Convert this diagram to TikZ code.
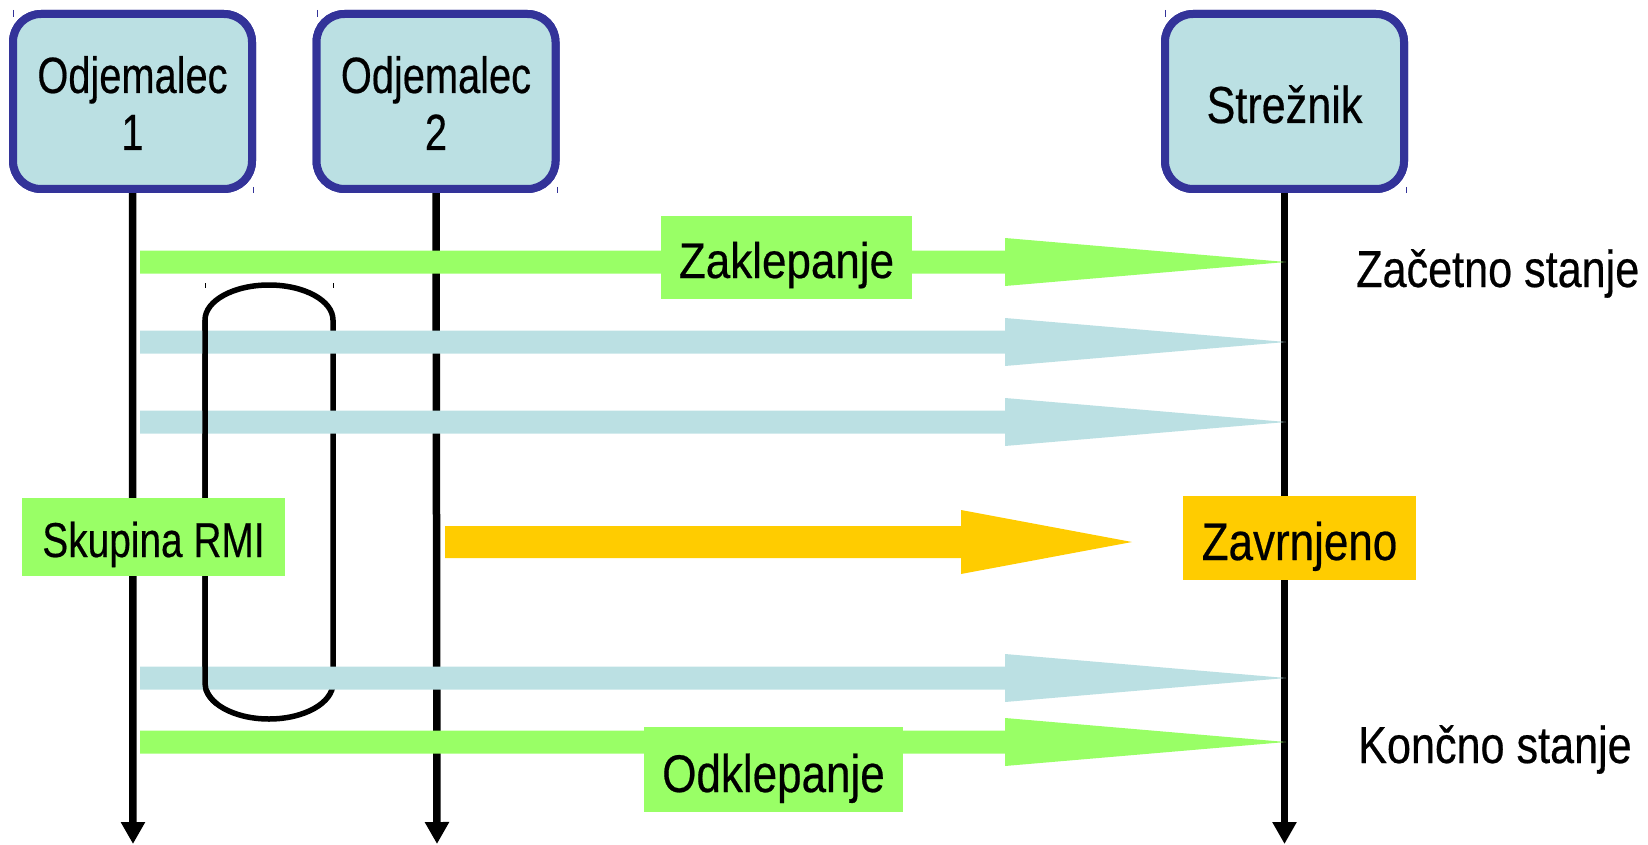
\documentclass[tikz,border=0pt]{standalone}
\usepackage{fontspec}
\setmainfont{Liberation Sans}[FakeStretch=0.83,FakeBold=0.4]
\usetikzlibrary{arrows.meta,calc}
\definecolor{boxfill}{HTML}{BBE0E3}
\definecolor{boxline}{HTML}{333399}
\definecolor{lgreen}{HTML}{99FF66}
\definecolor{lyellow}{HTML}{FFCC00}
% #1 colour, #2 start, #3 tip, #4 half shaft, #5 half head, #6 head length
\newcommand\blkarrow[6]{%
  \fill[#1] ($(#2)+(0,#4)$) -- ($(#3)+(-#6,#4)$) -- ($(#3)+(-#6,#5)$) -- (#3)
    -- ($(#3)+(-#6,-#5)$) -- ($(#3)+(-#6,-#4)$) -- ($(#2)+(0,-#4)$) -- cycle;}
\begin{document}
\begin{tikzpicture}[x=1pt,y=-1pt,
  actor/.style={draw=boxline,line width=8pt,fill=boxfill,rounded corners=28pt,
    minimum width=239pt,minimum height=175pt,inner sep=0pt},
  title/.style={anchor=base,font=\fontsize{51pt}{57pt}\selectfont,inner sep=0pt},
  lbl/.style={anchor=base,inner sep=0pt},
  lifeline/.style={line width=7.5pt,-{Triangle[length=22pt,width=23pt]}},
  loopline/.style={line width=5.5pt},
  tick/.style={line width=1pt},
  tag/.style={inner sep=0pt}]
\useasboundingbox (0,0) rectangle (1648,845);

% actor boxes (nodes first, for names)
\node[actor] (c1) at (132.5,101.5) {};
\node[actor] (c2) at (436,101.5) {};
\node[actor] (srv) at (1284.5,101.5) {};

% lifelines
\coordinate (c1end) at (133,844);
\coordinate (c2end) at (437,844);
\coordinate (srvend) at (1284.5,844);
\draw[lifeline] (c1.south) -- (c1end);
\draw[lifeline] (c2.south) -- (c2end);
\draw[lifeline] (srv.south) -- (srvend);

% redraw boxes on top of lifeline starts
\node[actor] at (c1) {};
\node[actor] at (c2) {};
\node[actor] at (srv) {};
\node[title] (c1a) at (132.5,93) {\scalebox{0.94}[1]{Odjemalec}};
\node[title] (c1b) at (132.5,150) {\scalebox{0.94}[1]{1}};
\node[title] (c2a) at (436,93) {\scalebox{0.94}[1]{Odjemalec}};
\node[title] (c2b) at (436,150) {\scalebox{0.94}[1]{2}};
\node[title,font=\fontsize{52pt}{57pt}\selectfont] (srvt) at (1284.5,123) {Strežnik};

% corner ticks
\foreach \xl/\xr in {13.5/253.5, 317/557, 1165/1406}{
  \draw[tick,boxline] (\xl,10) -- (\xl,17);
  \draw[tick,boxline] (\xr,187) -- (\xr,193);
}
\draw[tick] (205,283) -- (205,288);
\draw[tick] (333,283) -- (333,288);

% RMI group loop (under arrows)
\coordinate (lpA) at (205,320);
\coordinate (lpB) at (205,683);
\coordinate (lpC) at (333,683);
\coordinate (lpD) at (333,320);
\draw[loopline] (lpA) -- (lpB) arc[start angle=180,end angle=0,x radius=64,y radius=36]
  -- (lpD) arc[start angle=0,end angle=-180,x radius=64,y radius=35] -- cycle;

% messages
\coordinate (m1s) at (140,262);  \coordinate (m1e) at (1286,262);
\coordinate (m2s) at (140,342);  \coordinate (m2e) at (1286,342);
\coordinate (m3s) at (140,422);  \coordinate (m3e) at (1286,422);
\coordinate (m4s) at (140,678);  \coordinate (m4e) at (1286,678);
\coordinate (m5s) at (140,742);  \coordinate (m5e) at (1286,742);
\coordinate (rjs) at (445,542);  \coordinate (rje) at (1132,542);
\blkarrow{lgreen}{m1s}{m1e}{11.5}{24}{281}
\blkarrow{boxfill}{m2s}{m2e}{11.5}{24}{281}
\blkarrow{boxfill}{m3s}{m3e}{11.5}{24}{281}
\blkarrow{boxfill}{m4s}{m4e}{11.5}{24}{281}
\blkarrow{lgreen}{m5s}{m5e}{11.5}{24}{281}
\blkarrow{lyellow}{rjs}{rje}{16}{32}{171}

% left side of the loop lies above the arrows
\draw[loopline] (lpA) -- (lpB) arc[start angle=180,end angle=145,x radius=64,y radius=36];

% labels
\node[tag,fill=lgreen,minimum width=251pt,minimum height=83pt] (zakb) at (786.5,257.5) {};
\node[lbl,font=\fontsize{50pt}{57pt}\selectfont] (zak) at (786.5,278) {\scalebox{1.06}[1]{Zaklepanje}};
\node[tag,fill=lgreen,minimum width=263pt,minimum height=78pt] (rmib) at (153.5,537) {};
\node[lbl,font=\fontsize{49pt}{57pt}\selectfont] (rmi) at (153.5,557) {\scalebox{0.955}[1]{Skupina RMI}};
\node[tag,fill=lyellow,minimum width=233pt,minimum height=84pt] (zavb) at (1299.5,538) {};
\node[lbl,font=\fontsize{53pt}{57pt}\selectfont] (zav) at (1299.5,560) {Zavrnjeno};
\node[tag,fill=lgreen,minimum width=259pt,minimum height=85pt] (odkb) at (773.5,769.5) {};
\node[lbl,font=\fontsize{53pt}{57pt}\selectfont] (odk) at (773.5,792) {Odklepanje};
\node[lbl,anchor=base west,font=\fontsize{52pt}{57pt}\selectfont] (zac) at (1356,287) {Začetno stanje};
\node[lbl,anchor=base west,font=\fontsize{52pt}{57pt}\selectfont] (kon) at (1358,763) {Končno stanje};
\end{tikzpicture}
\end{document}
